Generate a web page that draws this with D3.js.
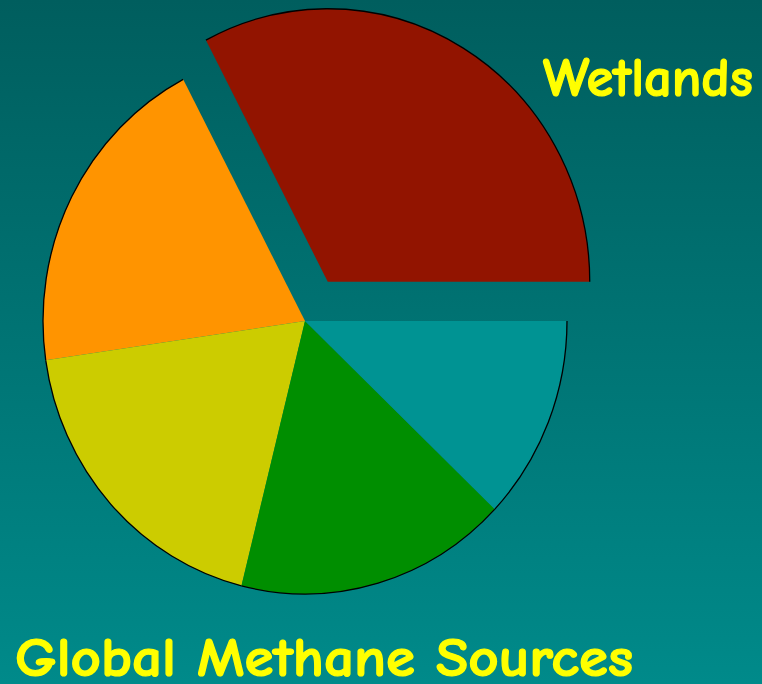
<!DOCTYPE html>
<html>
<head>
<meta charset="utf-8">
<script src="https://cdn.jsdelivr.net/npm/d3@7"></script>
<style>
  html, body { margin: 0; padding: 0; background: #007070; }
  svg { display: block; }
</style>
</head>
<body>
<svg id="chart" width="762" height="684"></svg>
<script>
// Data (percent shares), counter-clockwise from 3 o'clock
const categories = ["Wetlands", "Source B", "Source C", "Source D", "Source E"];
const shares = [32.7, 19.6, 18.8, 16.8, 12.1];
const colors = ["#921400", "#FF9400", "#CCCC00", "#008E00", "#009393"];
const exploded = ["Wetlands"];
const titleText = "Global Methane Sources";
const labelText = "Wetlands";

const W = 762, H = 684;
const svg = d3.select("#chart");

// background gradient
const defs = svg.append("defs");
const grad = defs.append("linearGradient").attr("id", "bg")
  .attr("x1", 0).attr("y1", 0).attr("x2", 0).attr("y2", 1);
grad.append("stop").attr("offset", "0%").attr("stop-color", "#005E5E");
grad.append("stop").attr("offset", "100%").attr("stop-color", "#008A8A");
svg.append("rect").attr("width", W).attr("height", H).attr("fill", "url(#bg)");

const cx = 305, cy = 321, r = 262, yScale = 273 / 262, explode = 44;

const data = categories.map((c, i) => ({ name: c, value: shares[i], color: colors[i] }));

const pie = d3.pie().value(d => d.value).sort(null)
  .startAngle(Math.PI / 2).endAngle(Math.PI / 2 - 2 * Math.PI);
const arcs = pie(data);

const arc = d3.arc().innerRadius(0).outerRadius(r);
const rim = d3.arc().innerRadius(r).outerRadius(r);

const g = svg.append("g").attr("transform", `translate(${cx},${cy}) scale(1,${yScale})`);

const slice = g.selectAll("g.slice").data(arcs).join("g")
  .attr("class", "slice")
  .attr("transform", d => {
    if (!exploded.includes(d.data.name)) return null;
    const mid = (d.startAngle + d.endAngle) / 2;
    return `translate(${Math.sin(mid) * explode},${-Math.cos(mid) * explode})`;
  });

slice.append("path")
  .attr("d", arc)
  .attr("fill", d => d.data.color);

slice.append("path")
  .attr("d", rim)
  .attr("fill", "none")
  .attr("stroke", "#000")
  .attr("stroke-width", 1.3)
  .attr("vector-effect", "non-scaling-stroke");

const font = "'Comic Sans MS', 'Comic Neue', 'DejaVu Sans', sans-serif";

svg.append("text")
  .attr("x", 543).attr("y", 96)
  .attr("font-family", font).attr("font-weight", "bold")
  .attr("font-size", 54).attr("fill", "#FFFF00")
  .attr("stroke", "#FFFF00").attr("stroke-width", 1.2)
  .attr("textLength", 210).attr("lengthAdjust", "spacingAndGlyphs")
  .text(labelText);

svg.append("text")
  .attr("x", 15).attr("y", 676)
  .attr("font-family", font).attr("font-weight", "bold")
  .attr("font-size", 54).attr("fill", "#FFFF00")
  .attr("stroke", "#FFFF00").attr("stroke-width", 1.2)
  .attr("textLength", 618).attr("lengthAdjust", "spacingAndGlyphs")
  .text(titleText);
</script>
</body>
</html>
